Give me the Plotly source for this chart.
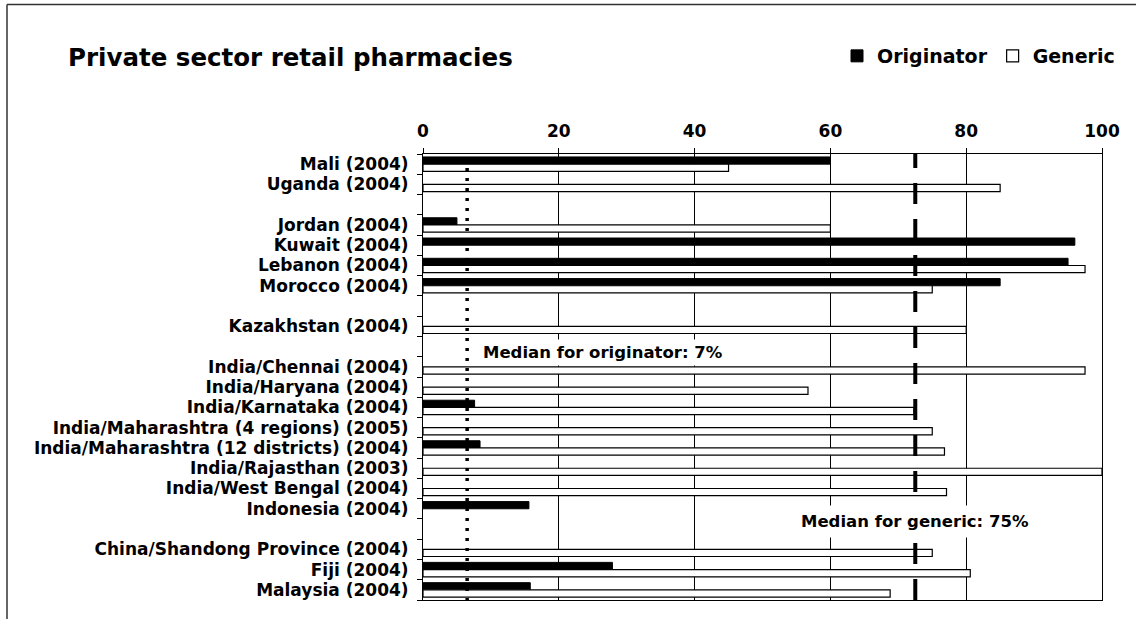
import plotly.graph_objects as go

# ---- data ----
categories = ["Mali (2004)", "Uganda (2004)", "", "Jordan (2004)", "Kuwait (2004)",
              "Lebanon (2004)", "Morocco (2004)", "", "Kazakhstan (2004)", "",
              "India/Chennai (2004)", "India/Haryana (2004)", "India/Karnataka (2004)",
              "India/Maharashtra (4 regions) (2005)", "India/Maharashtra (12 districts) (2004)",
              "India/Rajasthan (2003)", "India/West Bengal (2004)", "Indonesia (2004)", "",
              "China/Shandong Province (2004)", "Fiji (2004)", "Malaysia (2004)"]
originator = [60, None, None, 5, 96, 95, 85, None, None, None, None, None, 7.6, None,
              8.4, None, None, 15.6, None, None, 27.9, 15.8]
generic = [45, 85, None, 60, None, 97.5, 75, None, 80, None, 97.5, 56.7, 72.3, 75,
           76.8, 100, 77.1, None, None, 75, 80.6, 68.8]
median_originator = 6.5
median_generic = 72.5
median_originator_label = "Median for originator: 7%"
median_generic_label = "Median for generic: 75%"
x_ticks = [0, 20, 40, 60, 80, 100]

FONT = "DejaVu Sans"
FS = 17
ypos = list(range(len(categories)))
label_pos = [i for i, c in enumerate(categories) if c]
label_txt = [c for c in categories if c]

fig = go.Figure()
fig.add_trace(go.Bar(y=ypos, x=originator, orientation="h", name="<b>Originator</b>",
                     marker=dict(color="black", line=dict(color="black", width=1))))
fig.add_trace(go.Bar(y=ypos, x=generic, orientation="h", name="<b>Generic</b>",
                     marker=dict(color="white", line=dict(color="black", width=1.2))))

n = len(categories)
# median lines
fig.add_shape(type="line", xref="x", yref="y", x0=median_originator, x1=median_originator,
              y0=-0.8, y1=n - 0.5 + 0.2,
              line=dict(color="black", width=3.5, dash="3px,7px"))
fig.add_shape(type="line", xref="x", yref="y", x0=median_generic, x1=median_generic,
              y0=-0.85, y1=n - 0.5,
              line=dict(color="black", width=4, dash="21px,15px"))

fig.add_annotation(x=8.3, y=9.3, xref="x", yref="y", text="<b>" + median_originator_label + "</b>",
                   showarrow=False, xanchor="left", yanchor="middle", bgcolor="white",
                   borderpad=3, font=dict(family=FONT, size=16.5, color="black"))
fig.add_annotation(x=median_generic, y=17.65, xref="x", yref="y",
                   text="<b>" + median_generic_label + "</b>",
                   showarrow=False, xanchor="center", yanchor="middle", bgcolor="white",
                   borderpad=6, font=dict(family=FONT, size=16.5, color="black"))

# outer frame (cropped border)
W, H = 1136, 619
L, R, T, B = 423, 34, 154, 19
pw, ph = W - L - R, H - T - B
def px(x):
    return (x - L) / pw
def py(y):
    return (H - B - y) / ph
fig.add_shape(type="line", xref="paper", yref="paper", x0=px(7), x1=px(1136), y0=py(4.5), y1=py(4.5),
              line=dict(color="#333", width=1.5))
fig.add_shape(type="line", xref="paper", yref="paper", x0=px(7), x1=px(7), y0=py(4.5), y1=py(619),
              line=dict(color="#333", width=1.5))

fig.update_layout(
    width=W, height=H,
    margin=dict(l=L, r=R, t=T, b=B),
    paper_bgcolor="white", plot_bgcolor="white",
    barmode="group", bargap=0.29, bargroupgap=0,
    font=dict(family=FONT, size=FS, color="black"),
    title=dict(text="<b>Private sector retail pharmacies</b>", x=68 / W, xanchor="left",
               y=1 - 57 / H, yanchor="middle", font=dict(family=FONT, size=24.5, color="black")),
    legend=dict(orientation="h", x=px(1120), xanchor="right", y=py(56), yanchor="middle",
                font=dict(family=FONT, size=19, color="black"), itemwidth=30,
                bgcolor="rgba(0,0,0,0)", traceorder="normal"),
    xaxis=dict(side="top", range=[0, 100], tickmode="array", tickvals=x_ticks,
               ticktext=["<b>%d</b>" % v for v in x_ticks],
               showgrid=True, gridcolor="black",
               gridwidth=1, ticks="outside", ticklen=5, tickcolor="black",
               showline=True, linecolor="black", linewidth=1, mirror=True, zeroline=False,
               ticklabelstandoff=4,
               tickfont=dict(family=FONT, size=FS, color="black")),
    yaxis=dict(range=[n - 0.5, -0.5], tickmode="array", tickvals=label_pos,
               ticktext=["<b>" + t + "</b>" for t in label_txt], ticks="",
               showgrid=False, zeroline=False, showline=True, linecolor="black", linewidth=1,
               mirror=True, ticklabelstandoff=10,
               minor=dict(tickmode="linear", tick0=-0.5, dtick=1, ticks="outside", ticklen=5,
                          tickcolor="black", showgrid=False),
               tickfont=dict(family=FONT, size=FS, color="black")),
)

fig.write_html("out.html", config={"displayModeBar": False},
               post_script="document.body.style.margin='0';document.body.style.overflow='hidden';")
